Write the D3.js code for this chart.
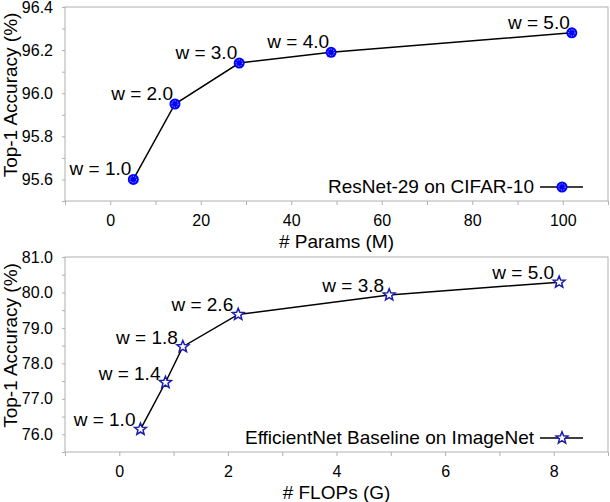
<!DOCTYPE html>
<html>
<head>
<meta charset="utf-8">
<script src="https://cdn.jsdelivr.net/npm/d3@7"></script>
<style>
  body { margin: 0; background: #fff; }
  text { font-family: "Liberation Sans", Arial, Helvetica, sans-serif; fill: #000; }
</style>
</head>
<body>
<svg id="chart" width="610" height="502"></svg>
<script>
// top panel: ResNet-29 on CIFAR-10
var resnetParams = [5.1, 14.3, 28.5, 48.8, 102];
var resnetAcc = [95.6, 95.95, 96.14, 96.19, 96.28];
var resnetWidths = ['1.0', '2.0', '3.0', '4.0', '5.0'];
var resnetXTicks = [0, 20, 40, 60, 80, 100];
var resnetYTicks = [95.6, 95.8, 96.0, 96.2, 96.4];

// bottom panel: EfficientNet baseline on ImageNet
var effFlops = [0.39, 0.85, 1.17, 2.19, 4.97, 8.1];
var effAcc = [76.14, 77.46, 78.47, 79.38, 79.93, 80.29];
var effWidths = ['1.0', '1.4', '1.8', '2.6', '3.8', '5.0'];
var effXTicks = [0, 2, 4, 6, 8];
var effYTicks = [76, 77, 78, 79, 80, 81];

var svg = d3.select('#chart');
var left = 65, right = 608;
var grey = '#b0b0b0';

function starPath(r1, r2) {
  var pts = [];
  for (var k = 0; k < 10; k++) {
    var r = k % 2 === 0 ? r1 : r2;
    var a = -Math.PI / 2 + k * Math.PI / 5;
    pts.push([r * Math.cos(a), r * Math.sin(a)]);
  }
  return 'M' + pts.map(function(p){ return p[0].toFixed(2) + ',' + p[1].toFixed(2); }).join('L') + 'Z';
}

function drawMarker(g, kind, x, y) {
  if (kind === 'circle') {
    g.append('circle').attr('cx', x).attr('cy', y).attr('r', 5.5)
      .attr('fill', '#0000ff');
    g.append('circle').attr('cx', x).attr('cy', y).attr('r', 3.2)
      .attr('fill', 'none').attr('stroke', '#fff').attr('stroke-width', 0.8)
      .attr('stroke-dasharray', '1,1.4');
  } else {
    g.append('path').attr('d', starPath(6.2, 2.7))
      .attr('transform', 'translate(' + x + ',' + y + ')')
      .attr('fill', '#fff').attr('stroke', '#1c1caa').attr('stroke-width', 1.5);
  }
}

function drawPanel(cfg) {
  var x = d3.scaleLinear().domain(cfg.xDomain).range([left, right]);
  var y = d3.scaleLinear().domain(cfg.yDomain).range([cfg.bottom, cfg.top]);
  var g = svg.append('g');

  // frame
  g.append('rect').attr('x', left).attr('y', cfg.top)
    .attr('width', right - left).attr('height', cfg.bottom - cfg.top)
    .attr('fill', 'none').attr('stroke', grey).attr('stroke-width', 1);

  // minor ticks
  g.append('g').attr('transform', 'translate(0,' + cfg.bottom + ')')
    .call(d3.axisBottom(x).tickValues(cfg.xMinor).tickSize(4).tickFormat(''))
    .call(function(a){ a.select('.domain').remove(); });
  g.append('g').attr('transform', 'translate(' + left + ',0)')
    .call(d3.axisLeft(y).tickValues(cfg.yMinor).tickSize(3).tickFormat(''))
    .call(function(a){ a.select('.domain').remove(); });

  // major ticks
  var xa = g.append('g').attr('transform', 'translate(0,' + cfg.bottom + ')')
    .call(d3.axisBottom(x).tickValues(cfg.xTicks).tickSize(4).tickPadding(10).tickFormat(d3.format('d')));
  var ya = g.append('g').attr('transform', 'translate(' + left + ',0)')
    .call(d3.axisLeft(y).tickValues(cfg.yTicks).tickSize(3).tickPadding(9).tickFormat(d3.format('.1f')));
  [xa, ya].forEach(function(a){
    a.select('.domain').remove();
    a.selectAll('text').style('font-family', '"Liberation Sans", Arial, sans-serif')
      .style('font-size', '16px').attr('fill', '#000');
  });
  g.selectAll('.tick line').attr('stroke', grey);

  // line
  var pts = cfg.xs.map(function(v, i){ return [x(v), y(cfg.ys[i])]; });
  g.append('path').attr('d', d3.line()(pts))
    .attr('fill', 'none').attr('stroke', '#000').attr('stroke-width', 1.5);

  // labels + markers
  pts.forEach(function(p, i){
    g.append('text').attr('x', p[0] + cfg.labelDx).attr('y', p[1] + cfg.labelDy)
      .attr('text-anchor', 'end').style('font-size', '19px')
      .text('w = ' + cfg.labels[i]);
  });
  pts.forEach(function(p){ drawMarker(g, cfg.marker, p[0], p[1]); });

  // legend
  var ly = cfg.bottom - 14;
  g.append('text').attr('x', 534).attr('y', ly + 6).attr('text-anchor', 'end')
    .style('font-size', '19px').text(cfg.legend);
  g.append('line').attr('x1', 540).attr('x2', 583).attr('y1', ly).attr('y2', ly)
    .attr('stroke', '#000').attr('stroke-width', 1.5);
  drawMarker(g, cfg.marker, 562, ly);

  // axis titles
  g.append('text').attr('x', (left + right) / 2).attr('y', cfg.bottom + 47)
    .attr('text-anchor', 'middle').style('font-size', '19px').text(cfg.xTitle);
  g.append('text')
    .attr('transform', 'translate(17,' + ((cfg.top + cfg.bottom) / 2 - 9) + ') rotate(-90)')
    .attr('text-anchor', 'middle').style('font-size', '19px').text('Top-1 Accuracy (%)');
}

drawPanel({
  top: 7, bottom: 201,
  xDomain: [-10, 110], yDomain: [95.5, 96.4],
  xTicks: resnetXTicks, yTicks: resnetYTicks,
  xMinor: [-10, 10, 30, 50, 70, 90, 110], yMinor: [95.5, 95.7, 95.9, 96.1, 96.3],
  xs: resnetParams, ys: resnetAcc, labels: resnetWidths,
  labelDx: -2, labelDy: -4, marker: 'circle',
  legend: 'ResNet-29 on CIFAR-10', xTitle: '# Params (M)'
});

drawPanel({
  top: 257, bottom: 452,
  xDomain: [-1, 9], yDomain: [75.5, 81],
  xTicks: effXTicks, yTicks: effYTicks,
  xMinor: [-1, 1, 3, 5, 7, 9], yMinor: [75.5, 76.5, 77.5, 78.5, 79.5, 80.5],
  xs: effFlops, ys: effAcc, labels: effWidths,
  labelDx: -5, labelDy: -3, marker: 'star',
  legend: 'EfficientNet Baseline on ImageNet', xTitle: '# FLOPs (G)'
});
</script>
</body>
</html>
